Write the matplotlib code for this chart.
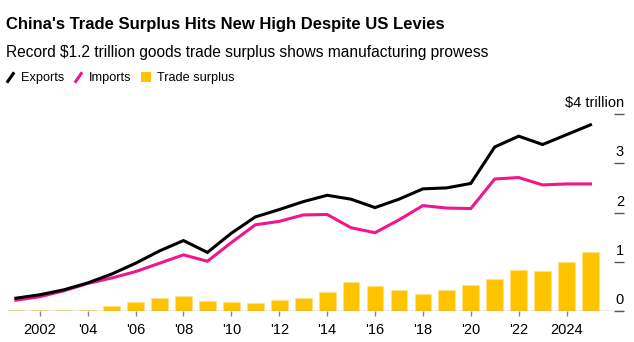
import matplotlib
matplotlib.use("Agg")
import matplotlib.pyplot as plt
from matplotlib.lines import Line2D
from matplotlib.path import Path
import matplotlib.transforms as mtransforms

years = list(range(2001, 2026))
exports = [0.26, 0.33, 0.43, 0.57, 0.75, 0.97, 1.22, 1.43, 1.19, 1.58, 1.91, 2.06, 2.22,
           2.35, 2.27, 2.10, 2.27, 2.48, 2.50, 2.59, 3.33, 3.55, 3.38, 3.58, 3.78]
imports = [0.22, 0.29, 0.41, 0.56, 0.67, 0.80, 0.97, 1.14, 1.01, 1.39, 1.75, 1.82, 1.95,
           1.96, 1.69, 1.59, 1.85, 2.14, 2.09, 2.08, 2.68, 2.71, 2.56, 2.58, 2.58]
surplus = [0.02, 0.03, 0.025, 0.03, 0.10, 0.18, 0.26, 0.30, 0.20, 0.18, 0.155, 0.23, 0.26,
           0.385, 0.59, 0.51, 0.42, 0.35, 0.42, 0.52, 0.64, 0.83, 0.82, 0.99, 1.19]
xtick_years = list(range(2002, 2026, 2))
xtick_labels = ["2002", "'04", "'06", "'08", "'10", "'12", "'14", "'16", "'18", "'20", "'22", "2024"]
ytick_vals = [0, 1, 2, 3, 4]
ytick_labels = ["0", "1", "2", "3", "$4 trillion"]

BLACK = "#000000"
PINK = "#F0168C"
YELLOW = "#FFC300"

plt.rcParams['font.family'] = ['Liberation Sans', 'DejaVu Sans']

W, H = 634, 342
fig = plt.figure(figsize=(W / 100, H / 100), dpi=100)
ax = fig.add_axes([8 / W, (H - 311) / H, (624 - 8) / W, (311 - 114) / H])
ax.set_xlim(2000.67, 2026.40)
ax.set_ylim(0, 4)

ax.bar(years, surplus, width=0.7, color=YELLOW, edgecolor="#FFE08A", linewidth=0.6, zorder=2)
ax.plot(years, imports, color=PINK, lw=2.2, zorder=3, solid_joinstyle='miter')
ax.plot(years, exports, color=BLACK, lw=2.2, zorder=4, solid_joinstyle='miter')
ax.axhline(0, color="#999999", lw=1.0, zorder=5)

for s in ax.spines.values():
    s.set_visible(False)

ax.set_xticks(xtick_years)
ax.set_xticklabels(xtick_labels, fontsize=10.5)
ax.tick_params(axis='x', direction='out', length=3.5, width=1, color="#888888", pad=5)

ax.yaxis.tick_right()
ax.set_yticks(ytick_vals)
ax.set_yticklabels([])
ax.tick_params(axis='y', direction='in', length=7.5, width=1, color="#555555", pad=0)

trans = mtransforms.blended_transform_factory(ax.transAxes, ax.transData)
off = mtransforms.offset_copy(trans, fig=fig, x=0, y=7, units='dots')
for v, lab in zip(ytick_vals, ytick_labels):
    ax.text(1.0, v, lab, transform=off, ha='right', va='baseline', fontsize=10.5, color=BLACK)

fig.text(6 / W, 1 - 24 / H, "China's Trade Surplus Hits New High Despite US Levies",
         fontsize=12.0, fontweight='bold', ha='left', va='center')
fig.text(6 / W, 1 - 53 / H, "Record $1.2 trillion goods trade surplus shows manufacturing prowess",
         fontsize=11.2, ha='left', va='center')

slash = Path([(-0.35, -0.5), (0.35, 0.5)], [Path.MOVETO, Path.LINETO])
handles = [
    Line2D([], [], marker=slash, linestyle='none', markersize=7.5, markeredgewidth=2.2,
           color=BLACK, label="Exports"),
    Line2D([], [], marker=slash, linestyle='none', markersize=7.5, markeredgewidth=2.2,
           color=PINK, label="Imports"),
    Line2D([], [], marker='s', linestyle='none', markersize=7, color=YELLOW,
           markeredgewidth=0, label="Trade surplus"),
]
fig.legend(handles=handles, loc='center left', bbox_to_anchor=(2 / W, 1 - 78 / H), ncol=3,
           frameon=False, fontsize=9.2, handlelength=0.7, handletextpad=0.5,
           columnspacing=0.75, borderaxespad=0, borderpad=0.3)

fig.savefig("out.png", dpi=100)
